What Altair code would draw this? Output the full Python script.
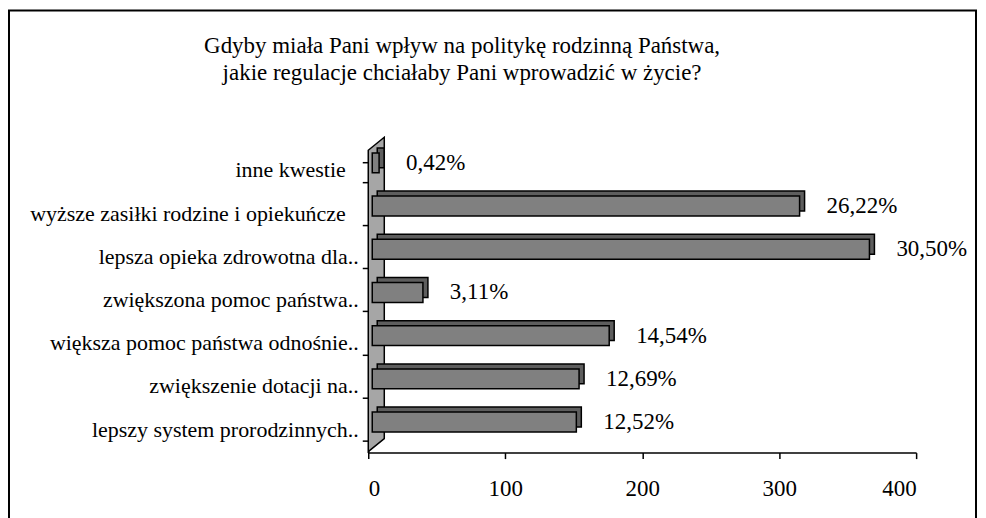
import altair as alt
import pandas as pd

# ---- data ----
categories = [
    "inne kwestie",
    "wyższe zasiłki rodzine i opiekuńcze",
    "lepsza opieka zdrowotna dla..",
    "zwiększona pomoc państwa..",
    "większa pomoc państwa odnośnie..",
    "zwiększenie dotacji na..",
    "lepszy system prorodzinnych..",
]
counts = [5, 312, 363, 37, 173, 151, 149]
percent_labels = ["0,42%", "26,22%", "30,50%", "3,11%", "14,54%", "12,69%", "12,52%"]
x_ticks = [0, 100, 200, 300, 400]
title_lines = [
    "Gdyby miała Pani wpływ na politykę rodzinną Państwa,",
    "jakie regulacje chciałaby Pani wprowadzić w życie?",
]

FONT = "Liberation Serif"
W, H = 549, 303

df = pd.DataFrame({"category": categories, "count": counts, "label": percent_labels})

x_scale = alt.Scale(domain=[0, 400], nice=False)
x_axis = alt.Axis(
    values=x_ticks, title=None, grid=False, domainColor="black", domainWidth=1.5,
    tickColor="black", tickWidth=1.5, tickSize=6, labelFont=FONT, labelFontSize=23,
    labelColor="black", labelPadding=19,
)
y_axis = alt.Axis(
    title=None, domain=True, domainColor="black", domainWidth=1.5, ticks=True,
    tickColor="black", tickWidth=1.5, tickSize=6, tickBand="extent", grid=False,
    labelFont=FONT, labelFontSize=22, labelColor="black",
    labelPadding=alt.ExprRef("slice(datum.label, -2) == '..' ? 4 : 17"),
    labelLimit=500, labelOffset=-2,
)

base = alt.Chart(df).encode(
    y=alt.Y("category:N", sort=categories,
            scale=alt.Scale(paddingInner=0.54, paddingOuter=0.27), axis=y_axis),
    x=alt.X("count:Q", scale=x_scale, axis=x_axis),
)

back = base.mark_bar(fill="#5e5e5e", stroke="black", strokeWidth=1.5,
                     xOffset=9, x2Offset=9, yOffset=-14, y2Offset=-14)
front = base.mark_bar(fill="#808080", stroke="black", strokeWidth=1.5,
                      xOffset=4, x2Offset=4, yOffset=-9, y2Offset=-9)
labels = base.mark_text(align="left", baseline="middle", dx=31, dy=-9,
                        font=FONT, fontSize=23, color="black").encode(text="label:N")

bars = alt.layer(back, front, labels)

# side wall of the 3D plot (decoration)
wall_df = pd.DataFrame({"wx": [0, 11.7], "wy": [1, 14], "wy2": [H, H + 13]})
wall = alt.Chart(wall_df).mark_area(fill="#a6a6a6", stroke="black", strokeWidth=1.5).encode(
    x=alt.X("wx:Q", scale=x_scale, axis=x_axis),
    y=alt.Y("wy:Q", scale=alt.Scale(domain=[0, H], nice=False, zero=False), axis=None),
    y2="wy2:Q",
)

border = alt.Chart(pd.DataFrame({"a": [0]})).mark_rect(
    fill=None, stroke="black", strokeWidth=2
).encode(x=alt.value(-360), x2=alt.value(609), y=alt.value(-140), y2=alt.value(370))

title = alt.Chart(pd.DataFrame({"t": ["\n".join(title_lines)]})).mark_text(
    font=FONT, fontSize=23, lineBreak="\n", lineHeight=27, align="center",
    baseline="middle", color="black"
).encode(x=alt.value(94), y=alt.value(-104), text="t:N")

chart = alt.layer(border, wall, bars, title).resolve_scale(y="independent").properties(
    width=W, height=H,
    autosize=alt.AutoSizeParams(type="none"),
    padding={"left": 361, "top": 142, "right": 62, "bottom": 67},
).configure(font=FONT, background="white").configure_view(
    stroke="transparent", strokeWidth=0
).configure_axis(grid=False)

chart.save("out.html", embed_options={"renderer": "svg", "actions": False})
